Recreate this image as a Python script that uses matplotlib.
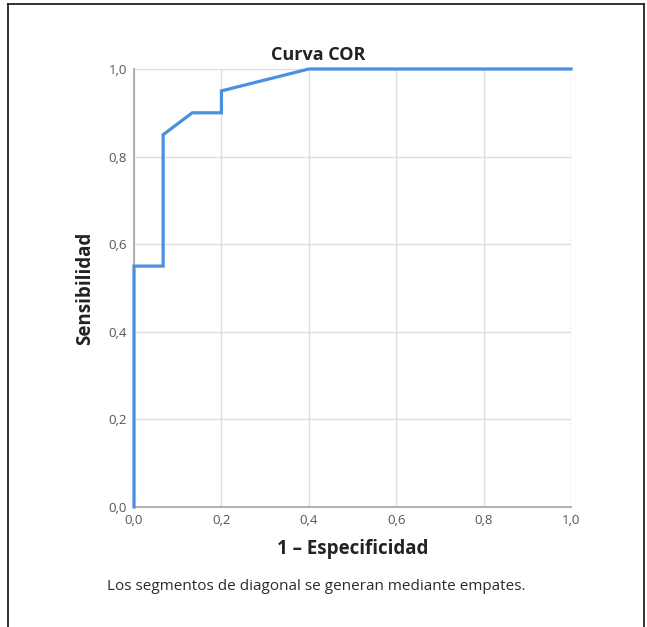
#!/usr/bin/env python3

import matplotlib
matplotlib.use("Agg")
import matplotlib.pyplot as plt
from matplotlib.lines import Line2D

# ROC points (1 - especificidad, sensibilidad)
fpr = [0.0, 0.0, 0.0667, 0.0667, 0.1333, 0.2, 0.2, 0.4, 1.0]
tpr = [0.0, 0.55, 0.55, 0.85, 0.90, 0.90, 0.95, 1.0, 1.0]
ticks = [0.0, 0.2, 0.4, 0.6, 0.8, 1.0]
tick_labels = ["0,0", "0,2", "0,4", "0,6", "0,8", "1,0"]


def plot(fileName):
    plt.rcParams['font.family'] = ['Open Sans', 'DejaVu Sans']
    fig = plt.figure(figsize=(6.47, 6.27), dpi=100)
    W, H = 647.0, 627.0

    # outer frame (open at the bottom)
    for xs, ys in [([8, 8], [627, 4]), ([8, 644], [4, 4]), ([644, 644], [4, 627])]:
        fig.add_artist(Line2D([x / W for x in xs], [1 - y / H for y in ys],
                              color="#222222", lw=1.3, transform=fig.transFigure))

    ax = fig.add_axes([134 / W, 1 - 507 / H, (571 - 134) / W, (507 - 69) / H])
    ax.plot(fpr, tpr, color="#4a8fe0", lw=2.3, solid_joinstyle="miter", zorder=3, clip_on=False)

    ax.set_xlim(0, 1)
    ax.set_ylim(0, 1)
    ax.set_xticks(ticks)
    ax.set_yticks(ticks)
    ax.set_xticklabels(tick_labels)
    ax.set_yticklabels(tick_labels)
    ax.tick_params(length=0, labelsize=9.5, labelcolor="#555555", pad=5)
    ax.grid(True, color="#dddddd", lw=1.0)
    ax.set_axisbelow(True)
    for s in ["top", "right"]:
        ax.spines[s].set_visible(False)
    for s in ["left", "bottom"]:
        ax.spines[s].set_color("#aaaaaa")
        ax.spines[s].set_linewidth(1.3)

    fig.text(318 / W, 1 - 55 / H, "Curva COR", ha="center", va="center",
             fontsize=13, fontweight="bold", color="#222222")
    fig.text(353 / W, 1 - 549 / H, "1 – Especificidad", ha="center", va="center",
             fontsize=13.5, fontweight="bold", color="#222222")
    fig.text(85 / W, 1 - 288 / H, "Sensibilidad", ha="center", va="center",
             rotation=90, fontsize=13.5, fontweight="bold", color="#222222")
    fig.text(107 / W, 1 - 586 / H, "Los segmentos de diagonal se generan mediante empates.",
             ha="left", va="center", fontsize=11, color="#2a2a2a")

    fig.savefig(fileName, dpi=100)


if __name__ == '__main__':
    plot("out.png")
